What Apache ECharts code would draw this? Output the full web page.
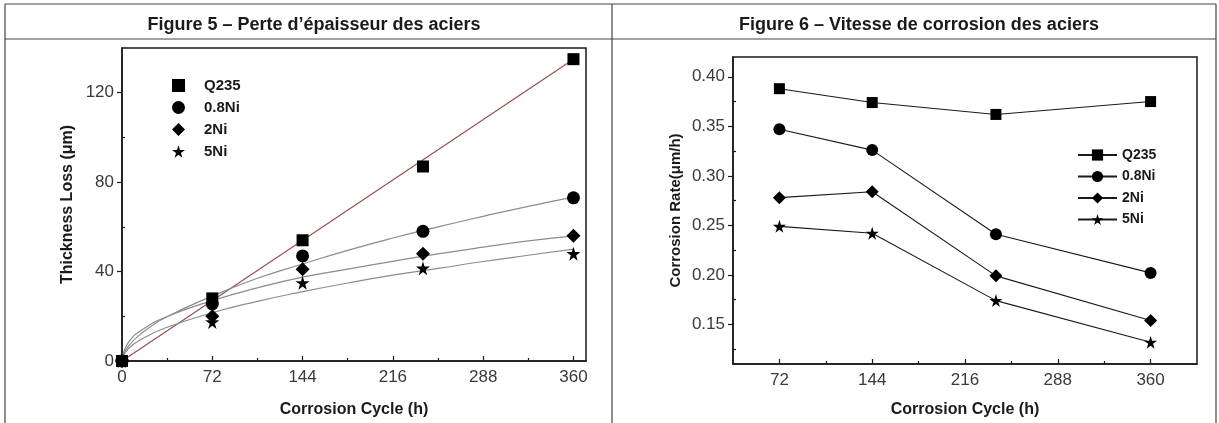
<!DOCTYPE html>
<html>
<head>
<meta charset="utf-8">
<title>Figures 5 et 6</title>
<script src="https://cdn.jsdelivr.net/npm/echarts@6/dist/echarts.min.js"></script>
<style>
  html, body { margin: 0; padding: 0; background: #fff; }
  #chart { width: 1219px; height: 423px; }
</style>
</head>
<body>
<div id="chart"></div>
<script>
// Figure 5 - perte d'epaisseur (um) selon le cycle (h)
const cycles = [0, 72, 144, 240, 360];
const lossQ235 = [0, 28, 54, 87, 135];
const loss08Ni = [0, 25.5, 47, 58, 73];
const loss2Ni = [0, 20, 41, 48, 56];
const loss5Ni = [0, 17.5, 35, 41.5, 48];

// courbes d'ajustement
const fitX = [0, 5, 18, 36, 72, 108, 144, 180, 216, 252, 288, 324, 360];
const fit08Ni = [0, 6.5, 13.4, 19.8, 29, 37, 43.4, 49.5, 55, 60, 64.7, 69.2, 73.3];
const fit2Ni = [0, 8.2, 14.6, 19.9, 27, 32.7, 37.5, 41.1, 44.6, 47.9, 50.9, 53.7, 56];
const fit5Ni = [0, 5.4, 10.5, 15.1, 21.6, 26.7, 31, 34.9, 38.4, 41.4, 44.5, 47.3, 50];
const fitQ235X = [0, 360];
const fitQ235 = [0, 135];

// Figure 6 - vitesse de corrosion (um/h)
const rateCycles = [72, 144, 240, 360];
const rateQ235 = [0.388, 0.374, 0.362, 0.375];
const rate08Ni = [0.347, 0.326, 0.241, 0.202];
const rate2Ni = [0.278, 0.284, 0.199, 0.154];
const rate5Ni = [0.249, 0.242, 0.174, 0.132];

// graduations
const lossXTicks = [0, 72, 144, 216, 288, 360];
const lossXMinor = [36, 108, 180, 252, 324];
const lossYTicks = [0, 40, 80, 120];
const lossYMinor = [20, 60, 100];
const rateXTicks = [72, 144, 216, 288, 360];
const rateXMinor = [108, 180, 252, 324];
const rateYTicks = [0.15, 0.2, 0.25, 0.3, 0.35, 0.4];
const rateYMinor = [0.125, 0.175, 0.225, 0.275, 0.325, 0.375];

const names = ["Q235", "0.8Ni", "2Ni", "5Ni"];
const star = "path://M50,0 L61,35 L98,35 L68,57 L79,91 L50,70 L21,91 L32,57 L2,35 L39,35 Z";
const symbols = ["rect", "circle", "diamond", star];

const FONT = "Liberation Sans, Arial, sans-serif";
const INK = "#1a1a1a";

function pairs(xs, ys) {
  return xs.map((x, i) => [x, ys[i]]);
}

function majorAxis(gridIndex, min, max, ticks, inside, fmt) {
  return {
    gridIndex: gridIndex,
    type: "value",
    min: min,
    max: max,
    axisLine: { onZero: false, lineStyle: { color: INK, width: 1.5 } },
    axisTick: { inside: inside, length: 5, customValues: ticks, lineStyle: { color: INK, width: 1.2 } },
    axisLabel: { customValues: ticks, fontSize: 17, color: "#3a3a3a", fontFamily: FONT, margin: 8, formatter: fmt },
    splitLine: { show: false }
  };
}

function minorAxis(gridIndex, min, max, ticks, position) {
  return {
    gridIndex: gridIndex,
    type: "value",
    position: position,
    min: min,
    max: max,
    axisLine: { show: false },
    axisTick: { inside: true, length: 3, customValues: ticks, lineStyle: { color: INK, width: 1.2 } },
    axisLabel: { show: false },
    splitLine: { show: false }
  };
}

const nameStyle = { fontWeight: "bold", fontSize: 16, color: INK, fontFamily: FONT };

let x0 = majorAxis(0, 0, 370, lossXTicks, true);
x0.name = "Corrosion Cycle (h)";
x0.nameLocation = "middle";
x0.nameGap = 41;
x0.nameTextStyle = nameStyle;

let y0 = majorAxis(0, 0, 140, lossYTicks, false);
y0.name = "Thickness Loss (\u03bcm)";
y0.nameLocation = "middle";
y0.nameGap = 46;
y0.nameTextStyle = nameStyle;

let x1 = majorAxis(1, 36, 396, rateXTicks, true);
x1.name = "Corrosion Cycle (h)";
x1.nameLocation = "middle";
x1.nameGap = 38;
x1.nameTextStyle = nameStyle;

let y1 = majorAxis(1, 0.11, 0.42, rateYTicks, false, v => v.toFixed(2));
y1.name = "Corrosion Rate(\u03bcm/h)";
y1.nameLocation = "middle";
y1.nameGap = 50;
y1.nameTextStyle = Object.assign({}, nameStyle, { fontSize: 15 });

const lossData = [lossQ235, loss08Ni, loss2Ni, loss5Ni];
const rateData = [rateQ235, rate08Ni, rate2Ni, rate5Ni];
const fitData = [fit08Ni, fit2Ni, fit5Ni];

let series = [];

// lignes d'ajustement (figure 5)
series.push({
  name: "fit-Q235",
  type: "line",
  xAxisIndex: 0,
  yAxisIndex: 0,
  data: pairs(fitQ235X, fitQ235),
  showSymbol: false,
  lineStyle: { color: "#9a4f4f", width: 1.2 },
  z: 2,
  silent: true
});
fitData.forEach((f, i) => {
  series.push({
    name: "fit-" + names[i + 1],
    type: "line",
    xAxisIndex: 0,
    yAxisIndex: 0,
    data: pairs(fitX, f),
    smooth: true,
    showSymbol: false,
    lineStyle: { color: "#8c8c8c", width: 1.2 },
    z: 2,
    silent: true
  });
});

// points mesures (figure 5)
lossData.forEach((d, i) => {
  series.push({
    name: names[i],
    type: "scatter",
    xAxisIndex: 0,
    yAxisIndex: 0,
    data: pairs(cycles, d),
    symbol: symbols[i],
    symbolSize: i === 0 ? 12 : (i === 1 ? 13 : 14),
    itemStyle: { color: "#000", opacity: 1 },
    z: 5
  });
});

// figure 6
rateData.forEach((d, i) => {
  series.push({
    name: names[i] + "-rate",
    type: "line",
    xAxisIndex: 2,
    yAxisIndex: 2,
    data: pairs(rateCycles, d),
    symbol: symbols[i],
    symbolSize: i === 0 ? 11 : (i === 1 ? 12 : 13),
    showAllSymbol: true,
    lineStyle: { color: INK, width: 1.1 },
    itemStyle: { color: "#000", opacity: 1 },
    z: 5
  });
});

const borderStyle = { stroke: "#444", lineWidth: 1.2 };

let myChart = echarts.init(document.getElementById("chart"));
myChart.setOption({
  animation: false,
  title: [
    {
      text: "Figure 5 \u2013 Perte d\u2019\u00e9paisseur des aciers",
      left: 309,
      top: 11,
      textAlign: "center",
      textStyle: { fontSize: 18, fontWeight: "bold", color: INK, fontFamily: FONT }
    },
    {
      text: "Figure 6 \u2013 Vitesse de corrosion des aciers",
      left: 914,
      top: 11,
      textAlign: "center",
      textStyle: { fontSize: 18, fontWeight: "bold", color: INK, fontFamily: FONT }
    }
  ],
  grid: [
    { left: 122, top: 48, width: 464, height: 314, show: true, borderColor: INK, borderWidth: 1.5, backgroundColor: "transparent" },
    { left: 733, top: 57, width: 464, height: 307, show: true, borderColor: INK, borderWidth: 1.5, backgroundColor: "transparent" }
  ],
  xAxis: [
    x0,
    minorAxis(0, 0, 370, lossXMinor, "bottom"),
    x1,
    minorAxis(1, 36, 396, rateXMinor, "bottom")
  ],
  yAxis: [
    y0,
    minorAxis(0, 0, 140, lossYMinor, "left"),
    y1,
    minorAxis(1, 0.11, 0.42, rateYMinor, "left")
  ],
  legend: [
    {
      data: names,
      orient: "vertical",
      left: 167,
      top: 73,
      itemWidth: 13,
      itemHeight: 13,
      itemGap: 7,
      selectedMode: false,
      itemStyle: { opacity: 1 },
      textStyle: { fontSize: 15, lineHeight: 15, fontWeight: "bold", color: INK, fontFamily: FONT, padding: [0, 0, 0, 14] }
    },
    {
      data: names.map(n => n + "-rate"),
      formatter: n => n.replace("-rate", ""),
      orient: "vertical",
      left: 1072,
      top: 143,
      itemWidth: 39,
      itemHeight: 14,
      itemGap: 7.5,
      selectedMode: false,
      textStyle: { fontSize: 14, lineHeight: 14, fontWeight: "bold", color: INK, fontFamily: FONT }
    }
  ],
  graphic: [
    { type: "line", shape: { x1: 5, y1: 4, x2: 1216, y2: 4 }, style: borderStyle, silent: true },
    { type: "line", shape: { x1: 5, y1: 39, x2: 1216, y2: 39 }, style: borderStyle, silent: true },
    { type: "line", shape: { x1: 5, y1: 4, x2: 5, y2: 423 }, style: borderStyle, silent: true },
    { type: "line", shape: { x1: 612, y1: 4, x2: 612, y2: 423 }, style: borderStyle, silent: true },
    { type: "line", shape: { x1: 1216, y1: 4, x2: 1216, y2: 423 }, style: borderStyle, silent: true }
  ],
  series: series
});
</script>
</body>
</html>
